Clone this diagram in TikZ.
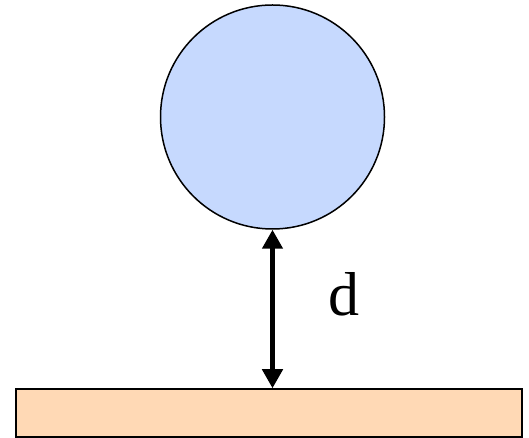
\documentclass[tikz,border=0pt]{standalone}
\usepackage{fontspec}
\setmainfont{Liberation Serif}
\usetikzlibrary{arrows.meta}
\definecolor{ballblue}{HTML}{C6D9FE}
\definecolor{floorpeach}{HTML}{FFD9B5}
\tikzset{
  ball/.style={circle, draw=black, line width=1.5pt, fill=ballblue, minimum size=224pt, inner sep=0pt},
  floor/.style={rectangle, draw=black, line width=1.5pt, fill=floorpeach, minimum width=506pt, minimum height=48pt, inner sep=0pt},
  gap/.style={line width=4.5pt, {Triangle[width=20pt,length=19pt]}-{Triangle[width=20pt,length=19pt]}},
  lbl/.style={font=\fontsize{62}{70}\selectfont, inner sep=0pt}
}
\begin{document}
\begin{tikzpicture}[x=1pt,y=1pt]
\useasboundingbox (0,0) rectangle (529,438);
\node[ball] (circ) at (272.5,321) {};
\node[floor] (rect) at (269,25) {};
\draw[gap] (circ.south) -- (circ.south |- rect.north);
\node[lbl, anchor=base] (d) at (344,122) {d};
\end{tikzpicture}
\end{document}
